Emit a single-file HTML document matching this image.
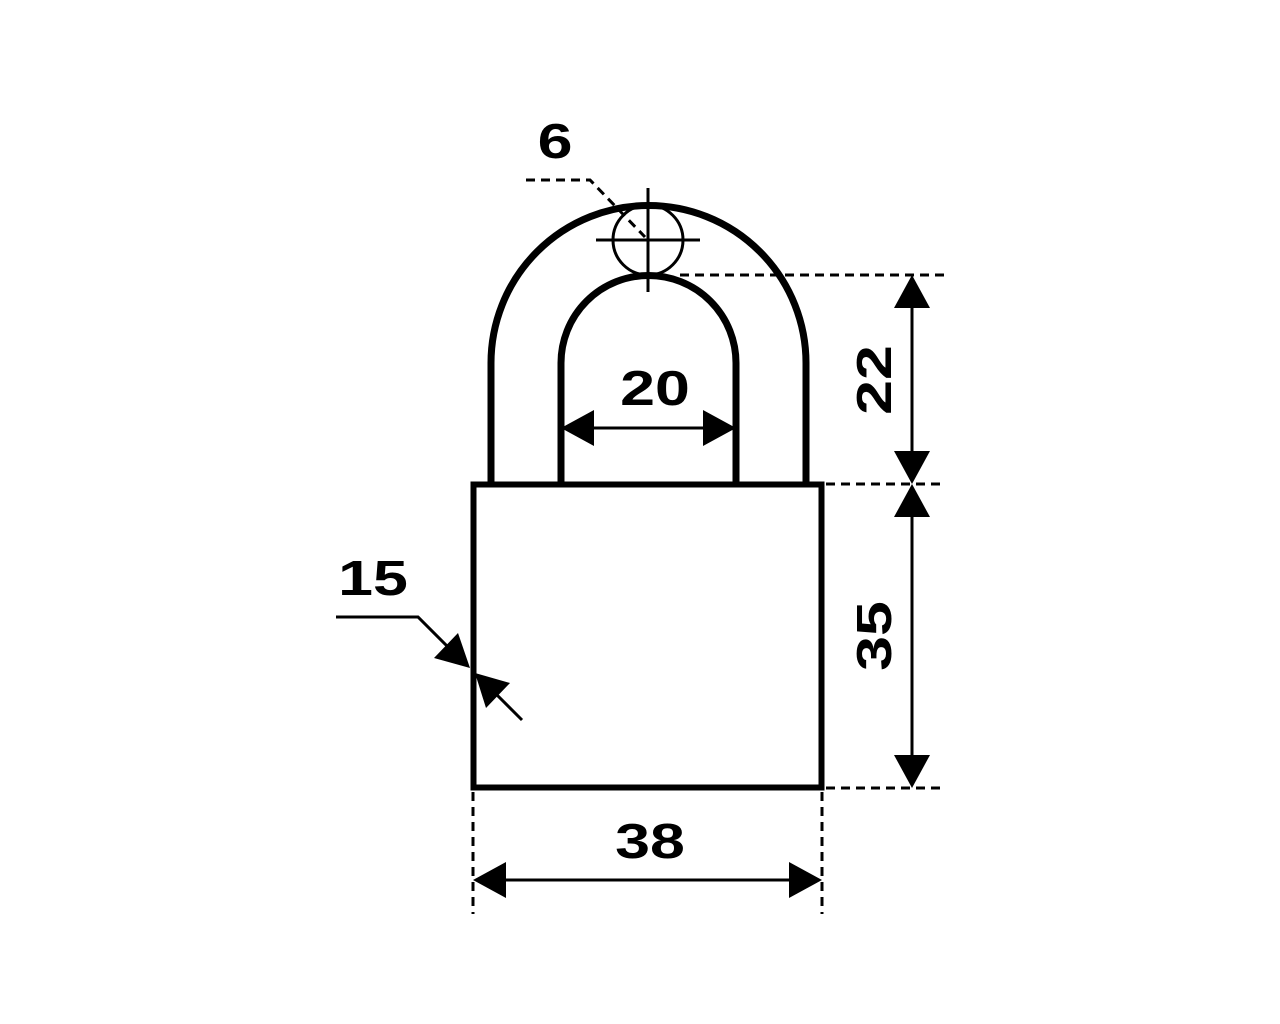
<!DOCTYPE html>
<html><head><meta charset="utf-8"><style>
html,body{margin:0;padding:0;background:#fff;}
svg{display:block;}
text{font-family:"Liberation Sans",sans-serif;font-weight:bold;font-size:49px;fill:#000;}
</style></head><body>
<svg width="1280" height="1024" viewBox="0 0 1280 1024" xmlns="http://www.w3.org/2000/svg">
<g fill="none" stroke="#000">
 <path d="M491 484 V363 A157.5 157.5 0 0 1 806 363 V484" stroke-width="7"/>
 <path d="M561 484 V363 A87.5 87.5 0 0 1 736 363 V484" stroke-width="7"/>
 <rect x="473.5" y="484.5" width="348" height="303" stroke-width="6"/>
 <circle cx="648" cy="240" r="35" stroke-width="3"/>
 <line x1="648" y1="188" x2="648" y2="292" stroke-width="3"/>
 <line x1="596" y1="240" x2="700" y2="240" stroke-width="3"/>
 <g stroke-width="3" stroke-dasharray="9,6">
  <polyline points="526,180 590,180 645,237"/>
  <line x1="680" y1="275" x2="945" y2="275"/>
  <line x1="826" y1="484" x2="945" y2="484"/>
  <line x1="826" y1="788" x2="945" y2="788"/>
  <line x1="473" y1="792" x2="473" y2="914"/>
  <line x1="822" y1="792" x2="822" y2="914"/>
 </g>
 <g stroke-width="3">
  <line x1="912" y1="290" x2="912" y2="470"/>
  <line x1="912" y1="500" x2="912" y2="775"/>
  <line x1="490" y1="880" x2="805" y2="880"/>
  <line x1="580" y1="428" x2="720" y2="428"/>
  <polyline points="336,617 418,617 455,654"/>
  <line x1="490" y1="688" x2="522" y2="720"/>
 </g>
</g>
<g fill="#000">
 <polygon points="912,275 894,308 930,308"/>
 <polygon points="912,484 894,451 930,451"/>
 <polygon points="912,484 894,517 930,517"/>
 <polygon points="912,788 894,755 930,755"/>
 <polygon points="473,880 506,862 506,898"/>
 <polygon points="822,880 789,862 789,898"/>
 <polygon points="561,428 594,410 594,446"/>
 <polygon points="736,428 703,410 703,446"/>
 <polygon points="470,668 434,658 458,633"/>
 <polygon points="475,673 510,683 486,708"/>
</g>
<text transform="translate(555,158) scale(1.28,1)" text-anchor="middle">6</text>
<text transform="translate(655,405) scale(1.28,1)" text-anchor="middle">20</text>
<text transform="translate(650,858) scale(1.28,1)" text-anchor="middle">38</text>
<text transform="translate(373,595) scale(1.28,1)" text-anchor="middle">15</text>
<text transform="translate(891,380) rotate(-90) scale(1.28,1)" text-anchor="middle">22</text>
<text transform="translate(891,636) rotate(-90) scale(1.28,1)" text-anchor="middle">35</text>
</svg>
</body></html>
